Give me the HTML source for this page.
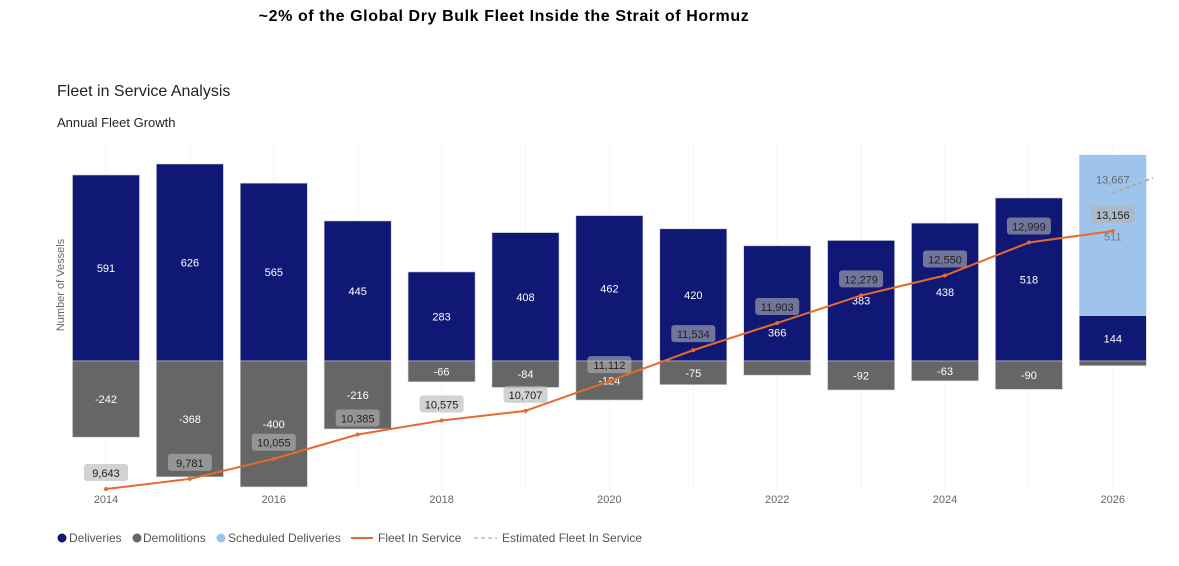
<!DOCTYPE html>
<html><head><meta charset="utf-8"><style>
body{margin:0;background:#fff;font-family:"Liberation Sans",sans-serif}
#wrap{position:relative;width:1179px;height:566px;overflow:hidden}
</style></head><body>
<div id="wrap">
<svg id="chart" width="1179" height="566">
<text x="504" y="21" font-size="16" font-weight="bold" text-anchor="middle" fill="#000" letter-spacing="0.6">~2% of the Global Dry Bulk Fleet Inside the Strait of Hormuz</text>
<text x="57" y="96" font-size="16" fill="#252423">Fleet in Service Analysis</text>
<text x="57" y="127" font-size="13" fill="#252423">Annual Fleet Growth</text>
<text transform="translate(64,285) rotate(-90)" font-size="11" fill="#666" text-anchor="middle">Number of Vessels</text>
<g id="grid"></g><g id="bars"></g><g id="labels"></g><g id="lines"></g><g id="xaxis"></g>
<g id="legend" font-size="12" fill="#555">
<circle cx="62" cy="538" r="4.5" fill="#0f1875"/><text x="69" y="542">Deliveries</text>
<circle cx="137" cy="538" r="4.5" fill="#666"/><text x="143" y="542">Demolitions</text>
<circle cx="221" cy="538" r="4.5" fill="#9fc4ec"/><text x="228" y="542">Scheduled Deliveries</text>
<line x1="351" y1="538" x2="373" y2="538" stroke="#e8692d" stroke-width="2"/><text x="378" y="542">Fleet In Service</text>
<line x1="474" y1="538" x2="497" y2="538" stroke="#bbb" stroke-width="1.5" stroke-dasharray="4,3"/><text x="502" y="542">Estimated Fleet In Service</text>
</g>
</svg>
</div>
<script>
const years=[2014,2015,2016,2017,2018,2019,2020,2021,2022,2023,2024,2025,2026];
const deliveries=[591,626,565,445,283,408,462,420,366,383,438,518,144];
const demolitions=[-242,-368,-400,-216,-66,-84,-124,-75,-45,-92,-63,-90,-15];
const scheduled=[0,0,0,0,0,0,0,0,0,0,0,0,511];
const fleet=[9643,9781,10055,10385,10575,10707,11112,11534,11903,12279,12550,12999,13156];
const estimated=[13667,13880];
const tickYears=[2014,2016,2018,2020,2022,2024,2026];
const NS='http://www.w3.org/2000/svg';
function x(yr){return 106+(yr-2014)*83.9;}
function yb(v){return 361-v*0.3147;}
function yf(v){return 489-(v-9643)*0.07344;}
function mk(tag,attrs,parent){const e=document.createElementNS(NS,tag);for(const k in attrs)e.setAttribute(k,attrs[k]);document.getElementById(parent).appendChild(e);return e;}
const fmt=v=>v.toLocaleString('en-US');
const bw=67;
years.forEach((yr,i)=>{
  const g=mk('line',{x1:x(yr),x2:x(yr),y1:145,y2:490,stroke:'#ddd','stroke-dasharray':'1,3'},'grid');
  
  
  let r=mk('rect',{x:x(yr)-bw/2,y:yb(deliveries[i]),width:bw,height:deliveries[i]*0.3147,fill:'#0f1875',stroke:'#ccc','stroke-width':0.6},'bars');
  
  
  if(scheduled[i]>0){
    r=mk('rect',{x:x(yr)-bw/2,y:yb(deliveries[i]+scheduled[i]),width:bw,height:scheduled[i]*0.3147,fill:'#9fc4ec'},'bars');
    
    
    const t=mk('text',{x:x(yr),y:yb(deliveries[i]+scheduled[i]/2)+4-45+46,'font-size':11,fill:'#777','text-anchor':'middle'},'labels');
    t.textContent=scheduled[i];
    
    
  }
  r=mk('rect',{x:x(yr)-bw/2,y:361,width:bw,height:-demolitions[i]*0.3147,fill:'#666',stroke:'#ccc','stroke-width':0.6},'bars');
  
  
  let dy=yb(deliveries[i]/2)+4;
  if(yr===2022) dy+=29;
  let t=mk('text',{x:x(yr),y:dy,'font-size':11,fill:'#fff','text-anchor':'middle'},'labels');
  t.textContent=deliveries[i];
  
  
  if(demolitions[i]<-50){
    t=mk('text',{x:x(yr),y:yb(demolitions[i]/2)+4,'font-size':11,fill:'#fff','text-anchor':'middle'},'labels');
    t.textContent=demolitions[i];
    
    
  }
});
let d='';
years.forEach((yr,i)=>{d+=(i?'L':'M')+x(yr)+','+yf(fleet[i]);});
let p=mk('path',{d:d,fill:'none',stroke:'#e8692d','stroke-width':2,'stroke-linejoin':'round'},'lines');


const ex=x(2026),ex2=x(2026)+40;
p=mk('path',{d:'M'+ex+','+yf(estimated[0])+'L'+ex2+','+yf(estimated[1]),fill:'none',stroke:'#a8a8a8','stroke-width':1.8,'stroke-dasharray':'4,3'},'lines');


let et=mk('text',{x:ex,y:yf(estimated[0])-10,'font-size':11,fill:'#666','text-anchor':'middle'},'labels');
et.textContent=fmt(estimated[0]);


years.forEach((yr,i)=>{
  const c=mk('circle',{cx:x(yr),cy:yf(fleet[i]),r:2,fill:'#e8692d'},'lines');
  
  
  const ly=yf(fleet[i])-16;
  const b=mk('rect',{x:x(yr)-22,y:ly-9,width:44,height:17,rx:3,fill:'rgba(180,180,180,0.6)'},'labels');
  
  
  const t=mk('text',{x:x(yr),y:ly+4,'font-size':11,fill:'#222','text-anchor':'middle'},'labels');
  t.textContent=fmt(fleet[i]);
  
  
});
tickYears.forEach(yr=>{
  const t=mk('text',{x:x(yr),y:503,'font-size':11,fill:'#666','text-anchor':'middle'},'xaxis');
  t.textContent=yr;
  
  
});
</script>
</body></html>
